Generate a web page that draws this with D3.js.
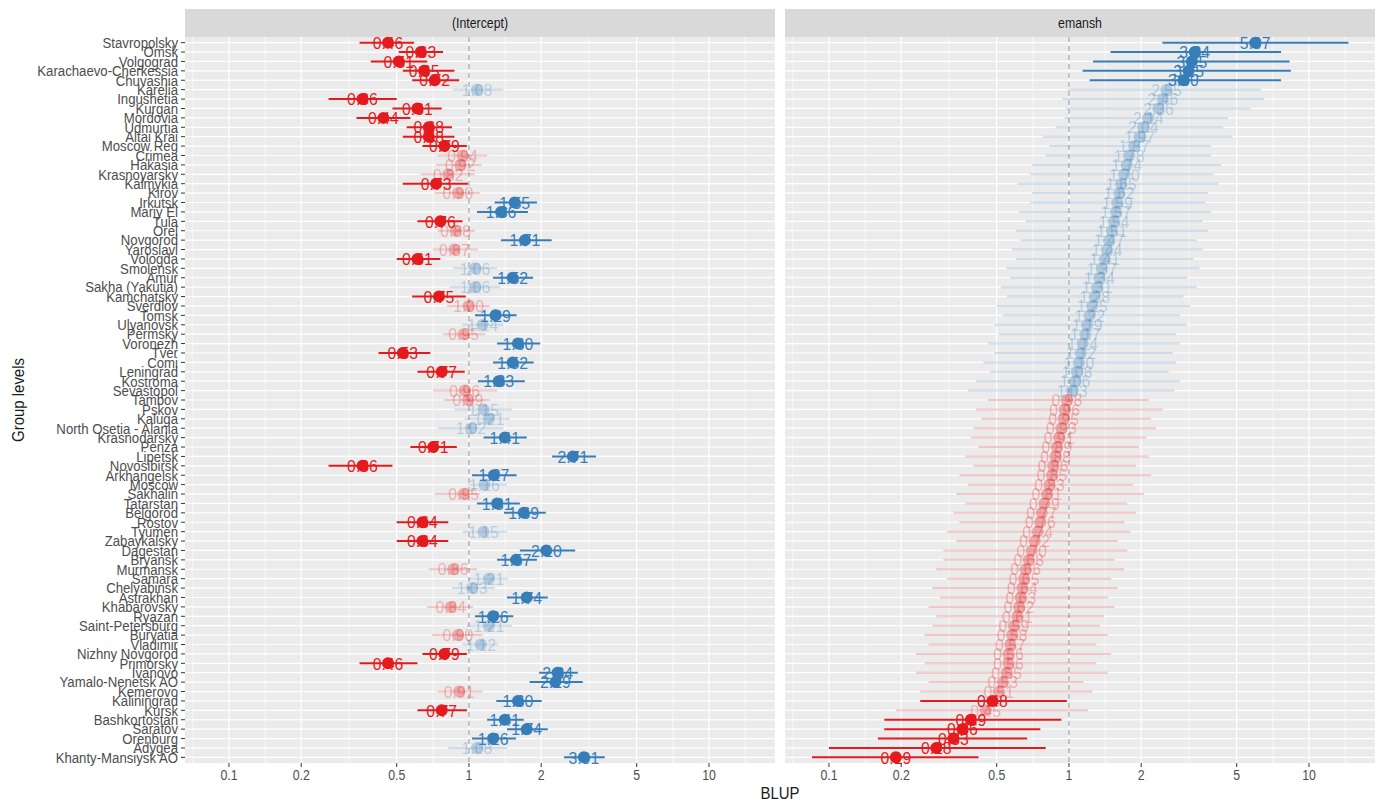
<!DOCTYPE html>
<html>
<head>
<meta charset="utf-8">
<script src="https://cdn.jsdelivr.net/npm/d3@7"></script>
<style>
  body { margin: 0; background: #fff; }
  text { font-family: "Liberation Sans", Arial, Helvetica, sans-serif; }
</style>
</head>
<body>
<svg width="1382" height="803"></svg>
<script>
// group levels, top to bottom
const groups = ['Stavropolsky', 'Omsk', 'Volgograd', 'Karachaevo-Cherkessia', 'Chuvashia', 'Karelia',
  'Ingushetia', 'Kurgan', 'Mordovia', 'Udmurtia', 'Altai Krai', 'Moscow Reg', 'Crimea', 'Hakasia',
  'Krasnoyarsky', 'Kalmykia', 'Kirov', 'Irkutsk', 'Mariy El', 'Tula', 'Orel', 'Novgorod', 'Yaroslavl',
  'Vologda', 'Smolensk', 'Amur', 'Sakha (Yakutia)', 'Kamchatsky', 'Sverdlov', 'Tomsk', 'Ulyanovsk',
  'Permsky', 'Voronezh', 'Tver', 'Comi', 'Leningrad', 'Kostroma', 'Sevastopol', 'Tambov', 'Pskov',
  'Kaluga', 'North Osetia - Alania', 'Krasnodarsky', 'Penza', 'Lipetsk', 'Novosibirsk', 'Arkhangelsk',
  'Moscow', 'Sakhalin', 'Tatarstan', 'Belgorod', 'Rostov', 'Tyumen', 'Zabaykalsky', 'Dagestan',
  'Bryansk', 'Murmansk', 'Samara', 'Chelyabinsk', 'Astrakhan', 'Khabarovsky', 'Ryazan',
  'Saint-Petersburg', 'Buryatia', 'Vladimir', 'Nizhny Novgorod', 'Primorsky', 'Ivanovo',
  'Yamalo-Nenetsk AO', 'Kemerovo', 'Kaliningrad', 'Kursk', 'Bashkortostan', 'Saratov', 'Orenburg',
  'Adygea', 'Khanty-Mansiysk AO'];

// (Intercept) facet
const interceptEst = [0.46, 0.63, 0.51, 0.65, 0.72, 1.08, 0.36, 0.61, 0.44, 0.68,
  0.68, 0.79, 0.94, 0.92, 0.82, 0.73, 0.90, 1.55, 1.36, 0.76,
  0.88, 1.71, 0.87, 0.61, 1.06, 1.52, 1.06, 0.75, 0.996, 1.29,
  1.14, 0.95, 1.60, 0.53, 1.52, 0.77, 1.33, 0.96, 0.99, 1.15,
  1.21, 1.02, 1.41, 0.71, 2.71, 0.36, 1.27, 1.16, 0.95, 1.31,
  1.69, 0.64, 1.15, 0.64, 2.10, 1.57, 0.86, 1.21, 1.03, 1.74,
  0.84, 1.26, 1.21, 0.90, 1.12, 0.79, 0.46, 2.34, 2.29, 0.91,
  1.60, 0.77, 1.41, 1.74, 1.26, 1.08, 3.01];
const interceptLow = [0.35, 0.51, 0.39, 0.53, 0.58, 0.86, 0.26, 0.48, 0.34, 0.55,
  0.53, 0.64, 0.74, 0.73, 0.63, 0.53, 0.72, 1.28, 1.08, 0.61,
  0.74, 1.36, 0.71, 0.50, 0.86, 1.26, 0.83, 0.58, 0.81, 1.06,
  0.94, 0.78, 1.31, 0.42, 1.26, 0.61, 1.09, 0.71, 0.79, 0.87,
  0.96, 0.74, 1.15, 0.57, 2.22, 0.26, 1.03, 0.99, 0.72, 1.08,
  1.40, 0.50, 0.94, 0.50, 1.63, 1.31, 0.68, 0.99, 0.85, 1.44,
  0.67, 1.06, 0.98, 0.70, 0.94, 0.64, 0.35, 1.96, 1.79, 0.74,
  1.30, 0.61, 1.19, 1.44, 1.03, 0.82, 2.49];
const interceptHigh = [0.59, 0.78, 0.67, 0.87, 0.91, 1.39, 0.50, 0.77, 0.57, 0.85,
  0.87, 0.98, 1.19, 1.13, 1.06, 0.99, 1.11, 1.92, 1.76, 0.94,
  1.06, 2.21, 1.09, 0.76, 1.31, 1.85, 1.35, 0.97, 1.22, 1.58,
  1.39, 1.17, 1.98, 0.69, 1.86, 0.96, 1.71, 1.31, 1.22, 1.51,
  1.48, 1.39, 1.74, 0.89, 3.38, 0.48, 1.58, 1.44, 1.11, 1.63,
  2.09, 0.82, 1.44, 0.82, 2.77, 1.92, 1.08, 1.45, 1.28, 2.13,
  1.04, 1.53, 1.51, 1.14, 1.32, 0.98, 0.61, 2.84, 2.98, 1.14,
  2.01, 0.98, 1.69, 2.13, 1.57, 1.44, 3.68];

// emansh facet
const emanshEst = [5.97, 3.34, 3.25, 3.15, 3.00, 2.55, 2.46, 2.36, 2.14, 2.04,
  1.97, 1.87, 1.78, 1.74, 1.70, 1.65, 1.62, 1.59, 1.57, 1.54,
  1.51, 1.47, 1.44, 1.41, 1.37, 1.34, 1.31, 1.28, 1.25, 1.22,
  1.19, 1.17, 1.14, 1.12, 1.10, 1.08, 1.06, 1.03, 0.98, 0.96,
  0.95, 0.93, 0.91, 0.89, 0.88, 0.86, 0.85, 0.83, 0.81, 0.79,
  0.77, 0.76, 0.74, 0.72, 0.70, 0.68, 0.66, 0.65, 0.64, 0.63,
  0.62, 0.61, 0.59, 0.58, 0.57, 0.56, 0.56, 0.55, 0.53, 0.51,
  0.48, 0.45, 0.39, 0.36, 0.33, 0.28, 0.19];
const emanshLow = [2.45, 1.49, 1.26, 1.14, 1.22, 0.99, 0.94, 0.97, 0.96, 0.88,
  0.78, 0.83, 0.80, 0.70, 0.69, 0.61, 0.70, 0.69, 0.62, 0.66,
  0.60, 0.63, 0.58, 0.60, 0.55, 0.57, 0.52, 0.55, 0.50, 0.53,
  0.49, 0.51, 0.46, 0.49, 0.44, 0.47, 0.41, 0.38, 0.46, 0.41,
  0.43, 0.40, 0.39, 0.42, 0.37, 0.40, 0.35, 0.38, 0.34, 0.37,
  0.33, 0.35, 0.31, 0.34, 0.30, 0.30, 0.28, 0.31, 0.27, 0.29,
  0.26, 0.28, 0.27, 0.25, 0.26, 0.23, 0.25, 0.23, 0.26, 0.24,
  0.24, 0.19, 0.17, 0.17, 0.16, 0.10, 0.085];
const emanshHigh = [14.6, 7.65, 8.3, 8.4, 7.65, 6.3, 6.5, 5.7, 4.6, 4.4,
  4.8, 3.9, 3.9, 4.3, 4.0, 4.2, 3.8, 3.7, 3.9, 3.6,
  3.8, 3.4, 3.6, 3.3, 3.5, 3.1, 3.4, 3.0, 3.2, 2.9,
  3.1, 2.8, 2.9, 2.7, 2.8, 2.6, 2.9, 2.75, 2.15, 2.45,
  2.2, 2.3, 2.1, 1.95, 2.15, 1.9, 2.2, 1.85, 2.05, 1.75,
  1.9, 1.7, 1.8, 1.6, 1.75, 1.55, 1.7, 1.5, 1.6, 1.45,
  1.55, 1.40, 1.35, 1.45, 1.30, 1.50, 1.30, 1.45, 1.15, 1.25,
  0.98, 1.20, 0.93, 0.76, 0.67, 0.80, 0.42];

const facetNames = ['(Intercept)', 'emansh'];
const xTicks = [0.1, 0.2, 0.5, 1, 2, 5, 10];
const xTickLabels = ['0.1', '0.2', '0.5', '1', '2', '5', '10'];

const facets = [
  { name: facetNames[0], est: interceptEst, lo: interceptLow, hi: interceptHigh },
  { name: facetNames[1], est: emanshEst, lo: emanshLow, hi: emanshHigh },
];

const svg = d3.select('svg');
const panelLeft = [185, 785];
const panelW = 590;
const panelTop = 37;
const panelBottom = 763;

const red = '#E41A1C';
const blue = '#377EB8';
const squeeze = 0.88; // text in the picture is horizontally condensed

const x = d3.scaleLog().domain([0.0656, 18.84]).range([0, panelW]);
const y = d3.scalePoint().domain(groups).range([panelTop, panelBottom]).padding(0.6);

// minor grid: log midpoints between major breaks (one extra each side)
const ext = [0.05].concat(xTicks, [20]);
const minorTicks = d3.pairs(ext).map(([a, b]) => Math.sqrt(a * b));

function putText(sel, px, py, sx) {
  return sel.attr('x', 0).attr('y', 0)
    .attr('transform', `translate(${px},${py}) scale(${sx || squeeze},1)`);
}

facets.forEach((f, i) => {
  const g = svg.append('g').attr('transform', `translate(${panelLeft[i]},0)`);

  // strip
  g.append('rect').attr('x', 0).attr('y', 9).attr('width', panelW).attr('height', 28)
    .attr('fill', '#D9D9D9');
  putText(g.append('text'), panelW / 2, 23)
    .attr('text-anchor', 'middle').attr('dominant-baseline', 'central')
    .attr('font-size', 14).attr('fill', '#1A1A1A').text(f.name);

  // panel background + grid
  g.append('rect').attr('x', 0).attr('y', panelTop).attr('width', panelW)
    .attr('height', panelBottom - panelTop).attr('fill', '#EBEBEB');

  g.selectAll('.minor').data(minorTicks.filter((m) => m > x.domain()[0] && m < x.domain()[1]))
    .enter().append('line')
    .attr('x1', (d) => x(d)).attr('x2', (d) => x(d))
    .attr('y1', panelTop).attr('y2', panelBottom)
    .attr('stroke', '#fff').attr('stroke-width', 0.6);

  g.selectAll('.vmajor').data(xTicks).enter().append('line')
    .attr('x1', (d) => x(d)).attr('x2', (d) => x(d))
    .attr('y1', panelTop).attr('y2', panelBottom)
    .attr('stroke', '#fff').attr('stroke-width', 1.2);

  g.selectAll('.hmajor').data(groups).enter().append('line')
    .attr('x1', 0).attr('x2', panelW)
    .attr('y1', (d) => y(d)).attr('y2', (d) => y(d))
    .attr('stroke', '#fff').attr('stroke-width', 1.2);

  // reference line at 1
  g.append('line').attr('x1', x(1)).attr('x2', x(1))
    .attr('y1', panelTop).attr('y2', panelBottom)
    .attr('stroke', '#A8A8A8').attr('stroke-width', 1.3)
    .attr('stroke-dasharray', '5,4');

  const rows = groups.map((name, k) => {
    const est = f.est[k], lo = f.lo[k], hi = f.hi[k];
    const sig = lo > 1 || hi < 1;
    return {
      name, est, lo, hi,
      color: est > 1 ? blue : red,
      op: sig ? 1 : 0.3,
      lineOp: sig ? 1 : 0.22,
    };
  });

  // error bars
  g.selectAll('.ci').data(rows).enter().append('line')
    .attr('x1', (d) => x(d.lo)).attr('x2', (d) => x(d.hi))
    .attr('y1', (d) => y(d.name)).attr('y2', (d) => y(d.name))
    .attr('stroke', (d) => d.color).attr('stroke-width', 2)
    .attr('stroke-opacity', (d) => d.lineOp);

  // points
  g.selectAll('.pt').data(rows).enter().append('circle')
    .attr('cx', (d) => x(d.est)).attr('cy', (d) => y(d.name)).attr('r', 6)
    .attr('fill', (d) => d.color).attr('fill-opacity', (d) => d.op);

  // value labels
  g.selectAll('.lbl').data(rows).enter().append('text')
    .each(function (d) { putText(d3.select(this), x(d.est), y(d.name), 0.93); })
    .attr('text-anchor', 'middle').attr('dominant-baseline', 'central')
    .attr('font-size', 17).attr('fill', (d) => d.color).attr('fill-opacity', (d) => d.op)
    .text((d) => d.est.toFixed(2));

  // x axis ticks
  g.selectAll('.xt').data(xTicks).enter().append('line')
    .attr('x1', (d) => x(d)).attr('x2', (d) => x(d))
    .attr('y1', panelBottom).attr('y2', panelBottom + 4)
    .attr('stroke', '#333').attr('stroke-width', 1);
  g.selectAll('.xl').data(xTicks).enter().append('text')
    .each(function (d) { putText(d3.select(this), x(d), 780); })
    .attr('text-anchor', 'middle').attr('font-size', 14).attr('fill', '#4D4D4D')
    .text((d, j) => xTickLabels[j]);
});

// y axis
const ya = svg.append('g');
ya.selectAll('line').data(groups).enter().append('line')
  .attr('x1', panelLeft[0] - 4).attr('x2', panelLeft[0])
  .attr('y1', (d) => y(d)).attr('y2', (d) => y(d))
  .attr('stroke', '#333').attr('stroke-width', 1);
ya.selectAll('text').data(groups).enter().append('text')
  .each(function (d) { putText(d3.select(this), panelLeft[0] - 7, y(d)); })
  .attr('text-anchor', 'end').attr('dominant-baseline', 'central')
  .attr('font-size', 15).attr('fill', '#4D4D4D')
  .text((d) => d);

// axis titles
putText(svg.append('text'), (panelLeft[0] + panelLeft[1] + panelW) / 2, 799)
  .attr('text-anchor', 'middle').attr('font-size', 17).attr('fill', '#1A1A1A').text('BLUP');
svg.append('text')
  .attr('transform', `translate(24,${(panelTop + panelBottom) / 2}) rotate(-90) scale(${squeeze},1)`)
  .attr('text-anchor', 'middle').attr('font-size', 17).attr('fill', '#1A1A1A')
  .text('Group levels');
</script>
</body>
</html>
